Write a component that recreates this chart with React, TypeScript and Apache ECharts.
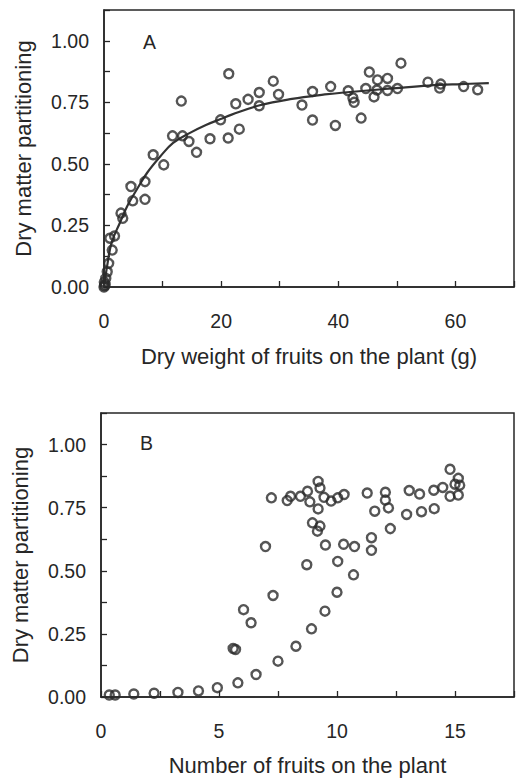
import React, { useEffect, useRef } from "react";
import * as echarts from "echarts";

// Panel A: dry weight of fruits (g) vs dry matter partitioning
const weightObs: number[][] = [
  [0, 0], [0.1, 0.005], [0.2, 0.01], [0.05, 0.02], [0.3, 0.035], [0.55, 0.062], [0.8, 0.096],
  [1.4, 0.15], [1.0, 0.198], [1.8, 0.207], [2.9, 0.3], [3.2, 0.279], [4.6, 0.408], [4.9, 0.35],
  [7.0, 0.428], [7.0, 0.356], [8.4, 0.537], [10.2, 0.496], [11.7, 0.614], [13.4, 0.614],
  [13.2, 0.755], [14.5, 0.591], [15.8, 0.547], [18.1, 0.602], [19.9, 0.679], [21.3, 0.866],
  [21.2, 0.605], [22.5, 0.744], [23.1, 0.641], [24.6, 0.762], [26.5, 0.79], [26.5, 0.736],
  [28.9, 0.836], [29.8, 0.782], [33.8, 0.739], [35.6, 0.794], [35.6, 0.678], [38.7, 0.814],
  [39.5, 0.656], [41.7, 0.797], [42.5, 0.768], [42.7, 0.75], [43.9, 0.686], [44.7, 0.806],
  [45.3, 0.873], [46.7, 0.841], [46.1, 0.772], [46.6, 0.8], [48.4, 0.847], [48.4, 0.798],
  [50.1, 0.806], [50.7, 0.909], [55.3, 0.832], [57.5, 0.824], [57.3, 0.808], [61.4, 0.814],
  [63.8, 0.801],
];

// Fitted curve in panel A
const weightFit: number[][] = [
  [0, 0], [0.5, 0.08], [1.3, 0.18], [2.7, 0.26], [4, 0.33], [5.7, 0.4], [7.4, 0.465],
  [9.6, 0.53], [11.8, 0.585], [14.6, 0.625], [17.4, 0.658], [19.9, 0.682], [21.8, 0.7],
  [26.6, 0.738], [32.1, 0.764], [37.7, 0.782], [41, 0.79], [46, 0.8], [49.9, 0.808],
  [55.4, 0.818], [61, 0.824], [65.7, 0.828],
];

// Panel B: number of fruits vs dry matter partitioning
const countObs: number[][] = [
  [0.35, 0.008], [0.6, 0.008], [1.39, 0.012], [2.25, 0.015], [3.26, 0.018], [4.13, 0.024],
  [4.93, 0.037], [5.8, 0.056], [6.57, 0.089], [7.5, 0.142], [8.26, 0.201], [8.92, 0.27],
  [9.49, 0.34], [10.0, 0.415], [10.7, 0.484], [10.03, 0.537], [10.28, 0.605], [10.74, 0.596],
  [9.51, 0.602], [8.72, 0.524], [7.29, 0.402], [6.04, 0.346], [6.36, 0.294], [5.6, 0.192],
  [5.7, 0.188], [6.97, 0.596], [7.22, 0.789], [7.89, 0.778], [8.03, 0.795], [8.45, 0.795],
  [8.75, 0.815], [8.85, 0.773], [9.2, 0.854], [9.28, 0.828], [9.2, 0.745], [9.45, 0.791],
  [9.75, 0.776], [10.03, 0.789], [10.3, 0.802], [8.96, 0.69], [9.28, 0.677], [9.17, 0.657],
  [11.28, 0.808], [11.6, 0.736], [11.46, 0.631], [11.46, 0.581], [12.05, 0.811], [12.05, 0.78],
  [12.18, 0.749], [12.26, 0.667], [12.95, 0.723], [13.06, 0.818], [13.5, 0.804], [13.58, 0.734],
  [14.1, 0.819], [14.12, 0.746], [14.48, 0.83], [14.79, 0.902], [15.14, 0.866], [15.0, 0.843],
  [15.2, 0.839], [14.79, 0.795], [15.14, 0.8],
];

const yAxisTitle = "Dry matter partitioning";
const xTitleA = "Dry weight of fruits on the plant (g)";
const xTitleB = "Number of fruits on the plant";
const panelLabels = ["A", "B"];

const INK = "#262626";
const FONT = "'Liberation Sans', Arial, sans-serif";

export default function App() {
  const ref = useRef<HTMLDivElement>(null);

  useEffect(() => {
    if (!ref.current) return;
    const chart = echarts.init(ref.current, undefined, { renderer: "svg" });

    const gridA = { left: 104, top: 10, width: 420, height: 277 };
    const gridB = { left: 101, top: 413, width: 420, height: 284 };

    const commonAxis = {
      axisLine: { show: true, lineStyle: { color: INK, width: 1.5 } },
      axisTick: { show: true, inside: true, length: 6, lineStyle: { color: INK, width: 1.3 } },
      splitLine: { show: false },
      nameTextStyle: { color: INK, fontSize: 22, fontFamily: FONT },
    };

    const tickLabel = { color: INK, fontSize: 19.5, fontFamily: FONT };

    const yAxisCfg = (gridIndex: number) => ({
      ...commonAxis,
      type: "value",
      gridIndex,
      min: 0,
      max: 1.125,
      interval: 0.125,
      name: yAxisTitle,
      nameLocation: "middle",
      nameGap: 70,
      axisLabel: {
        ...tickLabel,
        margin: 15,
        showMaxLabel: true,
        formatter: (v: number) =>
          Math.abs(Math.round(v / 0.25) * 0.25 - v) < 1e-6 && v <= 1.0001 ? v.toFixed(2) : "",
      },
    });

    const option = {
      animation: false,
      backgroundColor: "#fff",
      grid: [
        { ...gridA, show: true, borderColor: INK, borderWidth: 1.5, backgroundColor: "transparent" },
        { ...gridB, show: true, borderColor: INK, borderWidth: 1.5, backgroundColor: "transparent" },
      ],
      xAxis: [
        {
          ...commonAxis,
          type: "value",
          gridIndex: 0,
          min: 0,
          max: 70,
          interval: 10,
          name: xTitleA,
          nameLocation: "middle",
          nameGap: 58,
          axisLabel: {
            ...tickLabel,
            margin: 24,
            formatter: (v: number) => (v % 20 === 0 ? String(v) : ""),
          },
        },
        {
          ...commonAxis,
          type: "value",
          gridIndex: 1,
          min: 0,
          max: 17.5,
          interval: 2.5,
          name: xTitleB,
          nameLocation: "middle",
          nameGap: 57,
          axisLabel: {
            ...tickLabel,
            margin: 24,
            formatter: (v: number) => (v % 5 === 0 ? String(v) : ""),
          },
        },
      ],
      yAxis: [yAxisCfg(0), yAxisCfg(1)],
      graphic: [
        {
          type: "text",
          left: 143,
          top: 32,
          style: { text: panelLabels[0], fontSize: 19.5, fontFamily: FONT, fill: INK },
        },
        {
          type: "text",
          left: 140,
          top: 433,
          style: { text: panelLabels[1], fontSize: 19.5, fontFamily: FONT, fill: INK },
        },
      ],
      series: [
        {
          type: "line",
          xAxisIndex: 0,
          yAxisIndex: 0,
          data: weightFit,
          smooth: 0.4,
          showSymbol: false,
          symbol: "none",
          lineStyle: { color: "#333", width: 2.2 },
          z: 2,
        },
        {
          type: "scatter",
          xAxisIndex: 0,
          yAxisIndex: 0,
          data: weightObs,
          symbol: "circle",
          symbolSize: 9,
          itemStyle: { color: "rgba(0,0,0,0)", borderColor: "#2a2a2a", borderWidth: 2.4 },
          z: 3,
        },
        {
          type: "scatter",
          xAxisIndex: 1,
          yAxisIndex: 1,
          data: countObs,
          symbol: "circle",
          symbolSize: 9,
          itemStyle: { color: "rgba(0,0,0,0)", borderColor: "#2a2a2a", borderWidth: 2.4 },
          z: 3,
        },
      ],
    };

    chart.setOption(option as any);
    return () => chart.dispose();
  }, []);

  return (
    <div
      ref={ref}
      style={{ position: "absolute", left: 0, top: 0, width: 517, height: 780, background: "#fff" }}
    />
  );
}
